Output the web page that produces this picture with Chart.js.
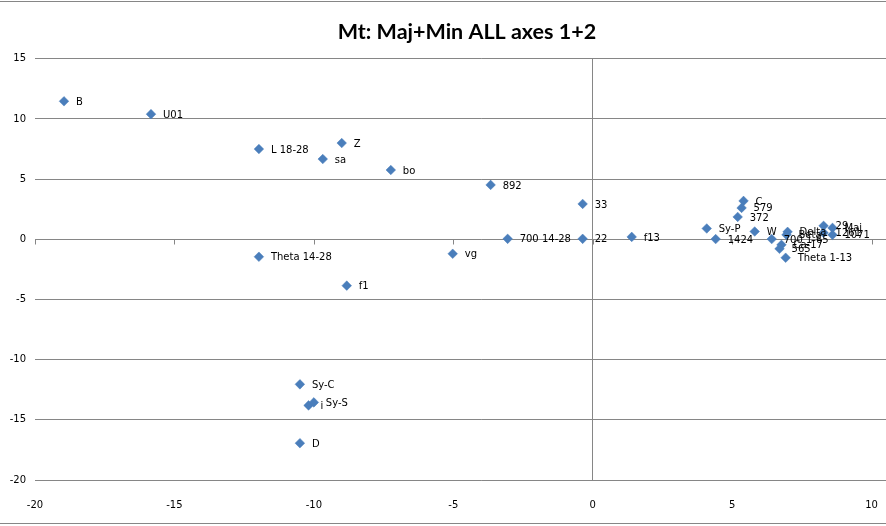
<!DOCTYPE html>
<html>
<head>
<meta charset="utf-8">
<script src="https://cdn.jsdelivr.net/npm/chart.js@4"></script>
<style>
  html, body { margin: 0; padding: 0; background: #fff; }
  #wrap { width: 886px; height: 526px; overflow: hidden; }
</style>
</head>
<body>
<div id="wrap"><canvas id="scatterChart"></canvas></div>
<script>
// Puntos del gráfico (eje 1, eje 2)
const pointNames = [
  "B", "U01", "L 18-28", "Z", "sa", "bo", "892", "33", "700 14-28", "22", "f13",
  "vg", "Theta 14-28", "f1", "Sy-C", "i", "Sy-S", "D",
  "Sy-P", "1424", "C", "579", "372", "W", "Delta", "Beta", "700 1-65", "Ca-17",
  "565", "Theta 1-13", "29", "1261", "Maj", "1071"
];
const axis1 = [
  -18.96, -15.84, -11.97, -9.0, -9.68, -7.24, -3.66, -0.36, -3.05, -0.36, 1.4,
  -5.02, -11.97, -8.82, -10.5, -10.19, -10.0, -10.5,
  4.09, 4.41, 5.41, 5.34, 5.2, 5.81, 6.99, 6.95, 6.42, 6.77,
  6.7, 6.92, 8.28, 8.28, 8.6, 8.6
];
const axis2 = [
  11.47, 10.4, 7.5, 8.0, 6.67, 5.76, 4.52, 2.94, 0.04, 0.04, 0.2,
  -1.2, -1.45, -3.85, -12.05, -13.8, -13.55, -16.94,
  0.9, 0.02, 3.19, 2.61, 1.86, 0.65, 0.62, 0.37, 0.02, -0.46,
  -0.79, -1.53, 1.12, 0.54, 0.95, 0.37
];
const xTicks = [-20, -15, -10, -5, 0, 5, 10];
const yTicks = [-20, -15, -10, -5, 0, 5, 10, 15];

const points = axis1.map((x, i) => ({ x: x, y: axis2[i] }));
const gridGray = "#868686";

// Etiquetas de cada punto, a la derecha del marcador
const pointLabels = {
  id: "pointLabels",
  afterDatasetsDraw(chart) {
    const ctx = chart.ctx;
    const meta = chart.getDatasetMeta(0);
    ctx.save();
    ctx.font = "10px 'DejaVu Sans'";
    ctx.fillStyle = "#000";
    ctx.textBaseline = "middle";
    meta.data.forEach((el, i) => {
      ctx.fillText(pointNames[i], el.x + 12, el.y + 1);
    });
    ctx.restore();
  }
};

// Eje horizontal en y=0 con sus marcas, y bordes del área del gráfico
const axisMarks = {
  id: "axisMarks",
  beforeDatasetsDraw(chart) {
    const ctx = chart.ctx;
    const xs = chart.scales.x;
    const y0 = Math.round(chart.scales.y.getPixelForValue(0)) + 0.5;
    ctx.save();
    ctx.strokeStyle = gridGray;
    ctx.lineWidth = 1;
    ctx.beginPath();
    xTicks.forEach((v) => {
      const px = Math.round(xs.getPixelForValue(v)) + 0.5;
      ctx.moveTo(px, y0);
      ctx.lineTo(px, y0 + 5);
    });
    ctx.moveTo(0, 1.5);
    ctx.lineTo(chart.width, 1.5);
    ctx.moveTo(0, chart.height - 2.5);
    ctx.lineTo(chart.width, chart.height - 2.5);
    ctx.stroke();
    ctx.restore();
  }
};

const ctx = document.getElementById("scatterChart");
ctx.width = 934;
ctx.height = 526;
new Chart(ctx, {
  type: "scatter",
  data: {
    datasets: [
      {
        data: points,
        pointStyle: "rectRot",
        pointRadius: 4.8,
        pointHoverRadius: 4.8,
        backgroundColor: "#4A7EBB",
        borderColor: "#4A7EBB",
        borderWidth: 0.5,
      },
    ],
  },
  options: {
    responsive: false,
    animation: false,
    layout: { padding: 0 },
    scales: {
      x: {
        type: "linear",
        min: -20,
        max: 12.05,
        afterBuildTicks: (s) => { s.ticks = xTicks.map((v) => ({ value: v })); },
        afterFit: (s) => { s.height = 46; },
        border: { display: false },
        grid: {
          drawTicks: false,
          color: (c) => (c.tick && c.tick.value === 0 ? gridGray : "rgba(0,0,0,0)"),
        },
        ticks: {
          padding: 19,
          color: "#000",
          font: { family: "DejaVu Sans", size: 10 },
        },
      },
      y: {
        type: "linear",
        min: -20,
        max: 15,
        afterBuildTicks: (s) => { s.ticks = yTicks.map((v) => ({ value: v })); },
        afterFit: (s) => { s.width = 35; },
        border: { display: false },
        grid: { drawTicks: false, color: gridGray },
        ticks: {
          padding: 9,
          color: "#000",
          font: { family: "DejaVu Sans", size: 10 },
        },
      },
    },
    plugins: {
      legend: { display: false },
      tooltip: { enabled: false },
      title: {
        display: true,
        text: "Mt: Maj+Min ALL axes 1+2",
        color: "#000",
        font: { family: "Lato", size: 21.5, weight: "bold" },
        padding: { top: 19, bottom: 14 },
      },
    },
  },
  plugins: [axisMarks, pointLabels],
});
</script>
</body>
</html>
